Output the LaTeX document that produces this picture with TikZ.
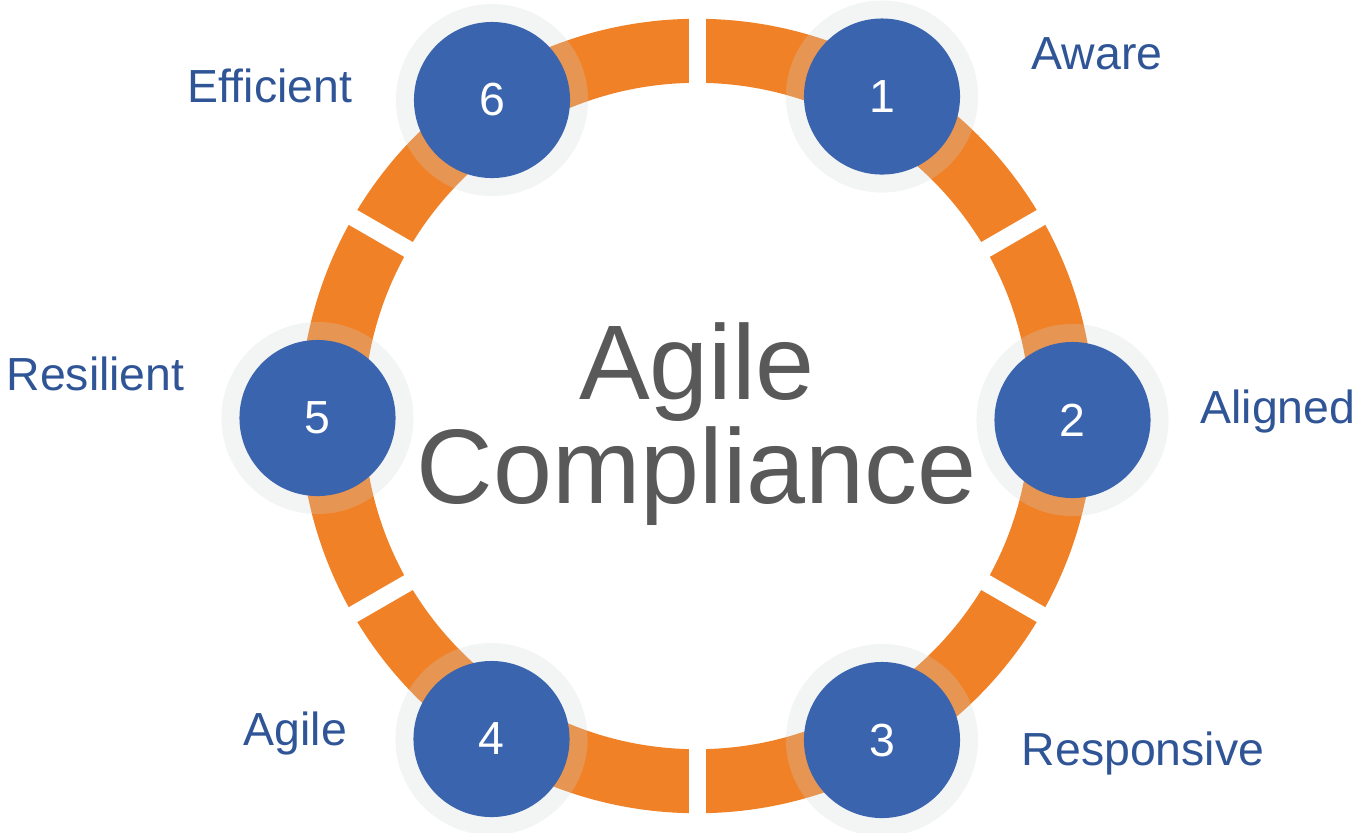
\documentclass[tikz,border=0pt]{standalone}
\usepackage{fontspec}
\setmainfont{Liberation Sans}
\usepackage{tikz}
\usetikzlibrary{positioning,backgrounds}
\definecolor{ringorange}{RGB}{240,129,39}
\definecolor{stageblue}{RGB}{58,101,174}
\definecolor{halogray}{RGB}{208,212,212}
\definecolor{tagblue}{RGB}{47,85,151}
\definecolor{titlegray}{RGB}{89,89,89}

\begin{document}
\begin{tikzpicture}[x=0.01cm, y=-0.01cm,
  stage/.style={circle, fill=stageblue, text=white, minimum size=1.56cm, inner sep=0pt,
    font=\fontsize{13.2pt}{15pt}\selectfont},
  halo/.style={fill=halogray, fill opacity=0.25},
  tag/.style={text=tagblue, anchor=base, inner sep=0pt, font=\fontsize{13.2pt}{15pt}\selectfont}]

\useasboundingbox (0,0) rectangle (1363,832);

% the six stages
\node[stage] (n1) at (882,96.5) {1};
\node[stage] (n2) at (1072.5,420) {2};
\node[stage] (n3) at (882,740) {3};
\node[stage] (n4) at (491.5,739) {4};
\node[stage] (n5) at (317.5,418) {5};
\node[stage] (n6) at (492,100) {6};

% ring with gaps, and the halos
\begin{scope}[on background layer]
\coordinate (hub) at (697,416);
\draw[ringorange, line width=0.64cm] (hub) circle (3.65cm);
\foreach \a in {30,90,...,330}
  \draw[white, line width=0.17cm] (hub) ++(\a:320) -- ++(\a:90);
\foreach \n in {n1,n2,n3,n4,n5,n6}
  \fill[halo] (\n) circle (0.96cm);
\end{scope}

% labels
\node[tag] (l1) at (1097,69.3) {Aware};
\node[tag] (l2) at (1278,423) {Aligned};
\node[tag] (l3) at (1143,765) {Responsive};
\node[tag] (l4) at (295.5,745) {Agile};
\node[tag] (l5) at (95.5,390) {Resilient};
\node[tag] (l6) at (270,102) {Efficient};

\node[text=titlegray, align=center, anchor=base, inner sep=0pt,
  font=\fontsize{30.16pt}{29.3pt}\selectfont] (title) at (697,503) {Agile\\Compliance};

\end{tikzpicture}
\end{document}
